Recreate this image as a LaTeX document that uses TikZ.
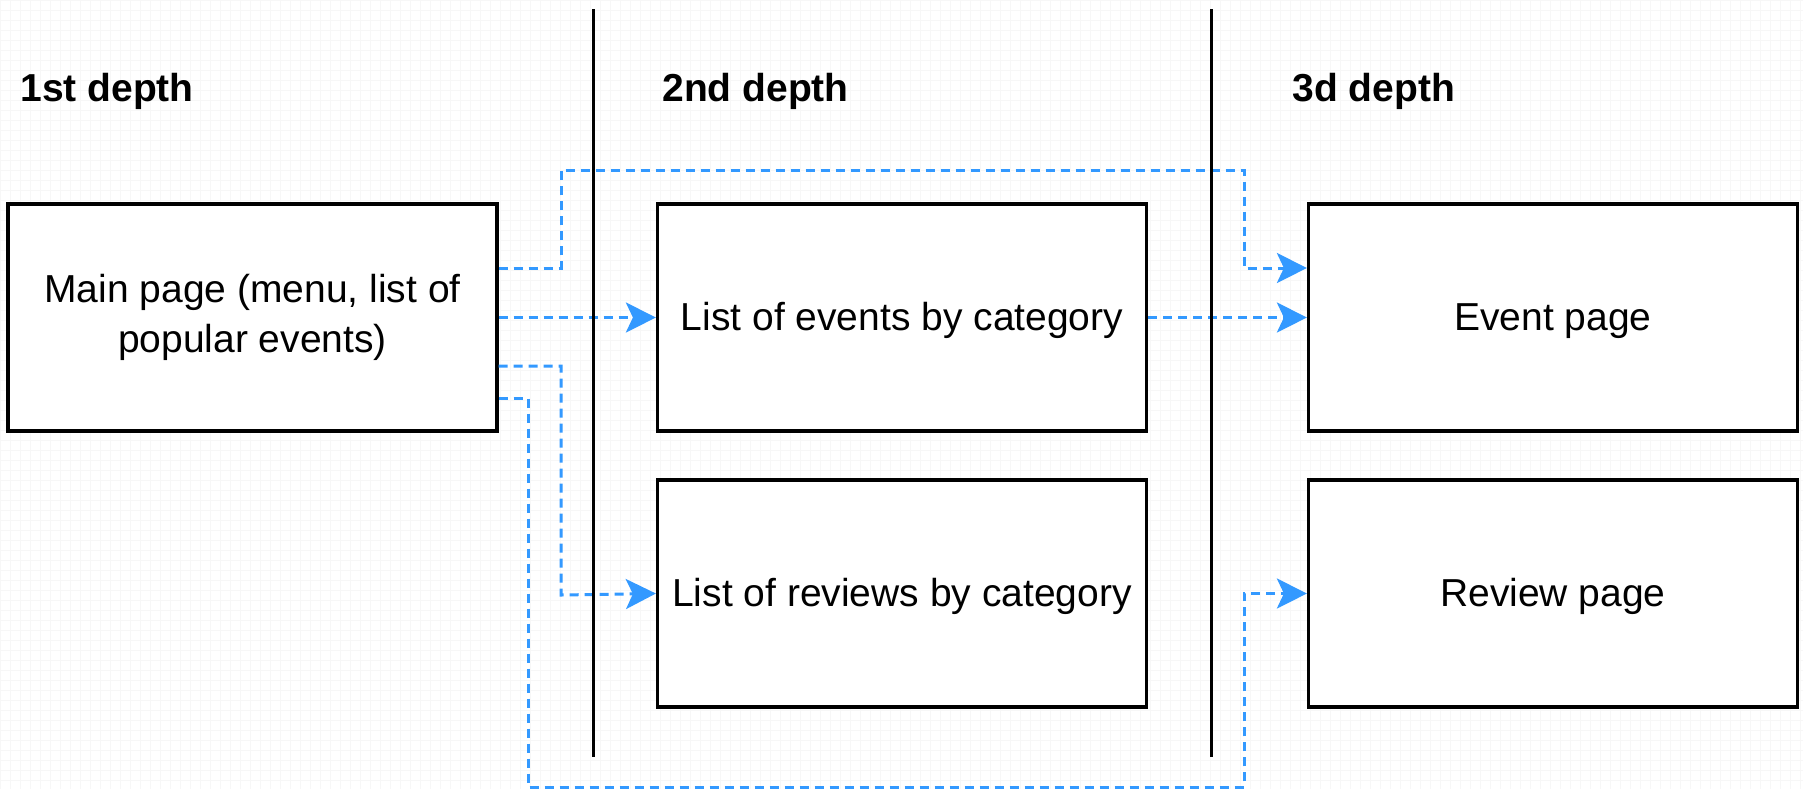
\documentclass[tikz,border=0pt]{standalone}
\usepackage{fontspec}
\setmainfont{Liberation Sans}
\usetikzlibrary{arrows.meta}
\definecolor{linkblue}{RGB}{51,153,255}
\tikzset{
  pagebox/.style={draw=black, line width=1.6pt, fill=white, minimum width=244.5pt, minimum height=113.5pt, inner sep=0pt, align=center, font=\fontsize{19.5}{25}\selectfont},
  oneline/.style={text height=17pt, text depth=4.5pt},
  header/.style={anchor=west, font=\fontsize{19.5}{24}\selectfont\bfseries, inner sep=0pt},
  link/.style={draw=linkblue, line width=1.5pt, dash pattern=on 4.5pt off 3pt},
  linkarrow/.style={link, -{Stealth[length=15pt, width=15pt, inset=3.5pt]}},
  divider/.style={draw=black, line width=1.5pt}
}
\begin{document}
\begin{tikzpicture}[x=0.5pt, y=-0.5pt]
\useasboundingbox (0,0) rectangle (1803,789);
\fill[white] (0,0) rectangle (1803,789);
\draw[black!3, line width=0.4pt, step=5pt] (0,0) grid (1803,789);

\node[header] (h1) at (20,91) {1st depth};
\node[header] (h2) at (662,91) {2nd depth};
\node[header] (h3) at (1292,91) {3d depth};

\node[pagebox] (main) at (252.5,317.5) {\raisebox{-1.5pt}{\begin{tabular}{@{}c@{}}Main page (menu, list of\\popular events)\end{tabular}}};
\node[pagebox, oneline] (lev) at (902,317.5) {List of events by category};
\node[pagebox, oneline] (ev) at (1553,317.5) {Event page};
\node[pagebox, oneline] (lrv) at (902,593.5) {List of reviews by category};
\node[pagebox, oneline] (rv) at (1553,593.5) {Review page};

\coordinate (a1) at (561,170);
\coordinate (a2) at (1244,170);
\coordinate (b1) at (561,595);
\coordinate (c1) at (528,787);
\coordinate (c2) at (1244,787);

\draw[linkarrow] ([yshift=24.75pt]main.east) -| (a1) -- (a2) |- ([yshift=24.75pt]ev.west);
\draw[linkarrow] (main.east) -- (lev.west);
\draw[linkarrow] (lev.east) -- (ev.west);
\draw[linkarrow] ([yshift=-24.25pt]main.east) -| (b1) -- (lrv.west);
\draw[linkarrow] ([yshift=-40.25pt]main.east) -| (c1) -- (c2) |- (rv.west);

\coordinate (v1t) at (593,9);
\coordinate (v1b) at (593,757);
\coordinate (v2t) at (1211,9);
\coordinate (v2b) at (1211,757);
\draw[divider] (v1t) -- (v1b);
\draw[divider] (v2t) -- (v2b);
\end{tikzpicture}
\end{document}
